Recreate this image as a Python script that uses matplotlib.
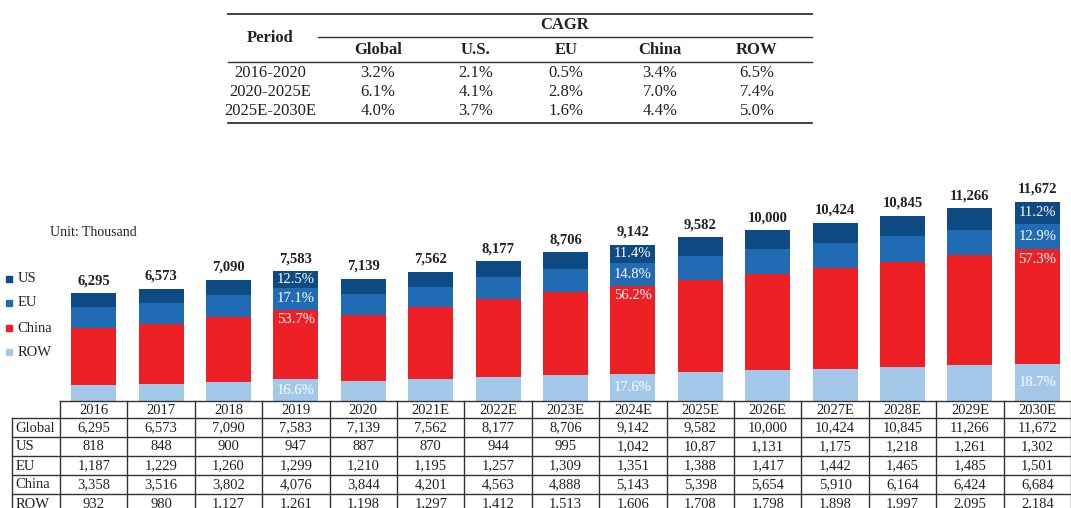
import matplotlib.pyplot as plt
from matplotlib.patches import Rectangle
from matplotlib.lines import Line2D
from matplotlib.transforms import blended_transform_factory

plt.rcParams["font.family"] = ["Liberation Serif", "DejaVu Serif"]

# ── Data ──────────────────────────────────────────────────────────────────────
years = ["2016", "2017", "2018", "2019", "2020", "2021E", "2022E", "2023E",
         "2024E", "2025E", "2026E", "2027E", "2028E", "2029E", "2030E"]
global_total = [6295, 6573, 7090, 7583, 7139, 7562, 8177, 8706, 9142, 9582,
                10000, 10424, 10845, 11266, 11672]
us = [818, 848, 900, 947, 887, 870, 944, 995, 1042, 1087, 1131, 1175, 1218, 1261, 1302]
eu = [1187, 1229, 1260, 1299, 1210, 1195, 1257, 1309, 1351, 1388, 1417, 1442, 1465, 1485, 1501]
china = [3358, 3516, 3802, 4076, 3844, 4201, 4563, 4888, 5143, 5398, 5654, 5910, 6164, 6424, 6684]
row = [932, 980, 1127, 1261, 1198, 1297, 1412, 1513, 1606, 1708, 1798, 1898, 1997, 2095, 2184]

# share labels printed inside selected bars: (US, EU, China, ROW)
share_labels = {
    3: ("12.5%", "17.1%", "53.7%", "16.6%"),
    8: ("11.4%", "14.8%", "56.2%", "17.6%"),
    14: ("11.2%", "12.9%", "57.3%", "18.7%"),
}

cagr_periods = ["2016-2020", "2020-2025E", "2025E-2030E"]
cagr_cols = ["Global", "U.S.", "EU", "China", "ROW"]
cagr_global = [3.2, 6.1, 4.0]
cagr_us = [2.1, 4.1, 3.7]
cagr_eu = [0.5, 2.8, 1.6]
cagr_china = [3.4, 7.0, 4.4]
cagr_row = [6.5, 7.4, 5.0]

C_US, C_EU, C_CN, C_ROW = "#0e4a84", "#216ab4", "#ed2125", "#a4c8e9"
TXT = "#222222"

W, H = 1071, 508
fig = plt.figure(figsize=(W / 100, H / 100), dpi=100)


def fx(x):
    return x / W


def fy(y):
    return 1 - y / H


# ── Stacked bars ──────────────────────────────────────────────────────────────
ax = fig.add_axes([fx(60), fy(401), fx(W - 60), (401 - 178.8) / H])
x = list(range(len(years)))
bw = 0.667
bottom1 = row
bottom2 = [a + b for a, b in zip(row, china)]
bottom3 = [a + b for a, b in zip(bottom2, eu)]
ax.bar(x, row, bw, color=C_ROW)
ax.bar(x, china, bw, bottom=bottom1, color=C_CN)
ax.bar(x, eu, bw, bottom=bottom2, color=C_EU)
ax.bar(x, us, bw, bottom=bottom3, color=C_US)
ax.set_xlim(-0.5, len(years) - 0.5)
ax.set_ylim(0, 13000)
ax.axis("off")

for i, t in enumerate(global_total):
    ax.annotate(f"{t:,}", (i, bottom3[i] + us[i]), xytext=(0, 6.5),
                textcoords="offset points", ha="center", va="baseline",
                fontsize=10.5, fontweight="bold", color=TXT)

for i, (l_us, l_eu, l_cn, l_row) in share_labels.items():
    kw = dict(ha="center", va="center", fontsize=10.5, color="white")
    ax.text(i, bottom3[i] + us[i] / 2, l_us, **kw)
    ax.text(i, bottom2[i] + eu[i] / 2, l_eu, **kw)
    ax.annotate(l_cn, (i, bottom2[i]), xytext=(0, -7), textcoords="offset points", **kw)
    ax.text(i, row[i] / 2, l_row, **kw)

# ── Legend + unit ─────────────────────────────────────────────────────────────
for name, col, yc in [("US", C_US, 279), ("EU", C_EU, 303), ("China", C_CN, 328), ("ROW", C_ROW, 352)]:
    fig.patches.append(Rectangle((fx(5.5), fy(yc + 3.3)), fx(6.5), 6.5 / H,
                                 color=col, transform=fig.transFigure))
    fig.text(fx(17.5), fy(yc), name, ha="left", va="center", fontsize=10.5, color=TXT)

fig.text(fx(50.5), fy(232), "Unit: Thousand", ha="left", va="center", fontsize=10, color=TXT)

# ── Data table under the bars ─────────────────────────────────────────────────
tr = blended_transform_factory(ax.transData, fig.transFigure)
rows_y = [401, 418, 437, 456, 475, 494, 513]
lc = "#333333"
x_right = len(years) - 0.5
# horizontal lines
fig.add_artist(Line2D([-0.5, x_right], [fy(rows_y[0])] * 2, transform=tr, color=lc, lw=1))
for yy in rows_y[1:]:
    fig.add_artist(Line2D([fx(12), fx(W)], [fy(yy)] * 2, transform=fig.transFigure, color=lc, lw=1))
# vertical lines
fig.add_artist(Line2D([fx(12), fx(12)], [fy(rows_y[1]), fy(rows_y[-1])],
                      transform=fig.transFigure, color=lc, lw=1))
for k in range(len(years) + 1):
    fig.add_artist(Line2D([k - 0.5, k - 0.5], [fy(rows_y[0]), fy(rows_y[-1])],
                          transform=tr, color=lc, lw=1))

us_text = [f"{v:,}" for v in us]
us_text[9] = "10,87"  # as printed in the source table
table_rows = [
    ("Global", [f"{v:,}" for v in global_total]),
    ("US", us_text),
    ("EU", [f"{v:,}" for v in eu]),
    ("China", [f"{v:,}" for v in china]),
    ("ROW", [f"{v:,}" for v in row]),
]
for i, yr in enumerate(years):
    fig.text(i, fy((rows_y[0] + rows_y[1]) / 2 + 0.5), yr, transform=tr,
             ha="center", va="center", fontsize=10.5, color=TXT)
for r, (label, vals) in enumerate(table_rows):
    yc = fy((rows_y[r + 1] + rows_y[r + 2]) / 2 + 0.5)
    fig.text(fx(15.5), yc, label, ha="left", va="center", fontsize=10.5, color=TXT)
    for i, v in enumerate(vals):
        fig.text(i, yc, v, transform=tr, ha="center", va="center", fontsize=10.5, color=TXT)

# ── CAGR table at the top ─────────────────────────────────────────────────────
tl, trx = 228, 812
fig.add_artist(Line2D([fx(tl), fx(trx)], [fy(13.5)] * 2, transform=fig.transFigure, color=lc, lw=1.3))
fig.add_artist(Line2D([fx(318), fx(trx)], [fy(37)] * 2, transform=fig.transFigure, color=lc, lw=1))
fig.add_artist(Line2D([fx(tl), fx(trx)], [fy(61.5)] * 2, transform=fig.transFigure, color=lc, lw=1))
fig.add_artist(Line2D([fx(tl), fx(trx)], [fy(123)] * 2, transform=fig.transFigure, color=lc, lw=1.3))

col_x = [378, 476, 566, 660, 757]
fig.text(fx(270), fy(38), "Period", ha="center", va="center", fontsize=12, fontweight="bold", color=TXT)
fig.text(fx(565), fy(25), "CAGR", ha="center", va="center", fontsize=12, fontweight="bold", color=TXT)
for cx, name in zip(col_x, cagr_cols):
    fig.text(fx(cx), fy(49.5), name, ha="center", va="center", fontsize=12, fontweight="bold", color=TXT)

cagr_vals = [cagr_global, cagr_us, cagr_eu, cagr_china, cagr_row]
for r, period in enumerate(cagr_periods):
    yc = fy(73 + 19 * r)
    fig.text(fx(270), yc, period, ha="center", va="center", fontsize=12, color=TXT)
    for cx, vals in zip(col_x, cagr_vals):
        fig.text(fx(cx), yc, f"{vals[r]:.1f}%", ha="center", va="center", fontsize=12, color=TXT)

fig.savefig("out.png", dpi=100)
